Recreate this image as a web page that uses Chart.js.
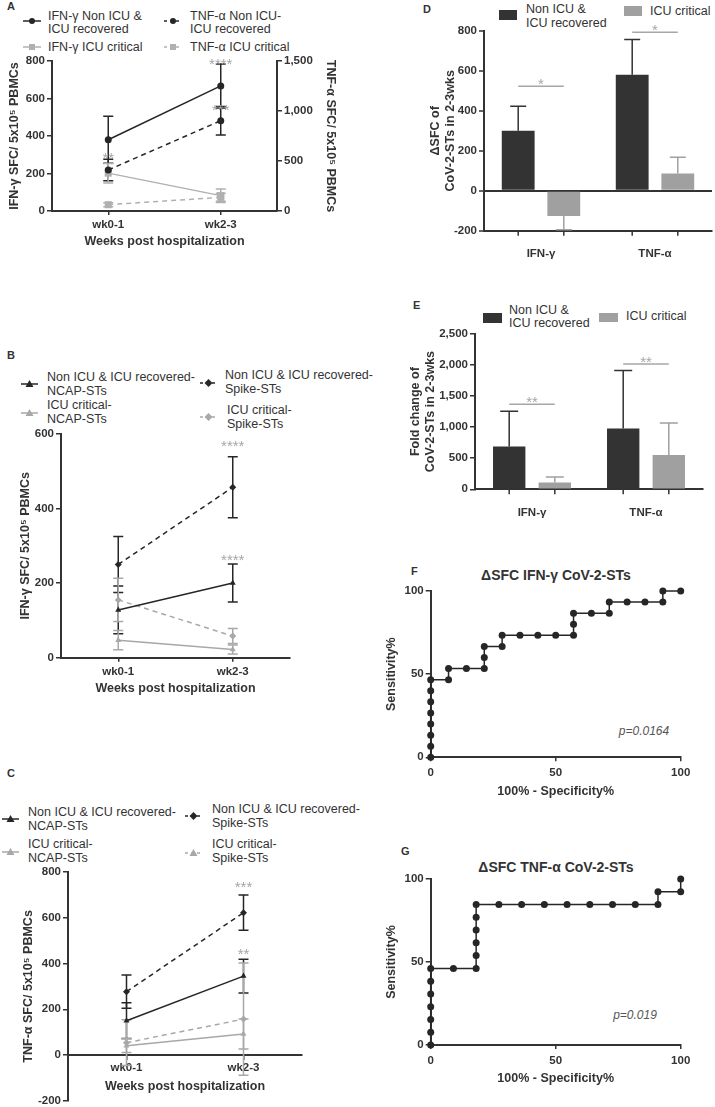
<!DOCTYPE html>
<html>
<head>
<meta charset="utf-8">
<script src="https://cdn.jsdelivr.net/npm/chart.js@4.4.0/dist/chart.umd.min.js"></script>
<style>
  body { margin: 0; width: 715px; height: 1107px; position: relative; overflow: hidden; background: #fff;
         font-family: 'Liberation Sans', Arial, sans-serif; color: #333; }
  canvas, svg, .t, .lt, .h { position: absolute; }
  .t { font-size: 12.5px; line-height: 14px; white-space: nowrap; }
  .lt { font-size: 11px; line-height: 13px; font-weight: bold; }
  .h { font-size: 14px; line-height: 15px; font-weight: bold; text-align: center; width: 220px; }
  .p { position: absolute; font-size: 12px; line-height: 14px; font-style: italic; color: #555; text-align: center; width: 100px; }
  .box { position: absolute; }
</style>
</head>
<body>

<!-- panel letters -->
<div class="lt" style="left:7px;top:0px">A</div>
<div class="lt" style="left:7px;top:349px">B</div>
<div class="lt" style="left:7px;top:767px">C</div>
<div class="lt" style="left:423px;top:3px">D</div>
<div class="lt" style="left:413px;top:299px">E</div>
<div class="lt" style="left:411px;top:565px">F</div>
<div class="lt" style="left:401px;top:845px">G</div>

<!-- legend A -->
<svg style="left:23px;top:16px" width="18" height="10"><line x1="0" y1="5" x2="18" y2="5" stroke="#262626" stroke-width="1.5"/><circle cx="9" cy="5" r="3" fill="#262626"/></svg>
<div class="t" style="left:48px;top:10.3px;line-height:13px">IFN-γ Non ICU &amp;<br>ICU recovered</div>
<svg style="left:164px;top:16px" width="18" height="10"><line x1="0" y1="5" x2="18" y2="5" stroke="#262626" stroke-width="1.5" stroke-dasharray="3,3"/><circle cx="9" cy="5" r="3" fill="#262626"/></svg>
<div class="t" style="left:190px;top:10.3px;line-height:13px">TNF-α Non ICU-<br>ICU recovered</div>
<svg style="left:23px;top:42px" width="18" height="10"><line x1="0" y1="5" x2="18" y2="5" stroke="#b0b0b0" stroke-width="1.5"/><rect x="6" y="2" width="6" height="6" fill="#b0b0b0"/></svg>
<div class="t" style="left:48px;top:40.3px">IFN-γ ICU critical</div>
<svg style="left:164px;top:42px" width="18" height="10"><line x1="0" y1="5" x2="18" y2="5" stroke="#b0b0b0" stroke-width="1.5" stroke-dasharray="3,3"/><rect x="6" y="2" width="6" height="6" fill="#b0b0b0"/></svg>
<div class="t" style="left:190px;top:40.3px">TNF-α ICU critical</div>

<!-- legend B -->
<svg style="left:21px;top:379px" width="17" height="10"><line x1="0" y1="5" x2="17" y2="5" stroke="#262626" stroke-width="1.5"/><polygon points="8.5,1 12.5,8 4.5,8" fill="#262626"/></svg>
<div class="t" style="left:47px;top:370.3px">Non ICU &amp; ICU recovered-<br>NCAP-STs</div>
<svg style="left:21px;top:408px" width="17" height="10"><line x1="0" y1="5" x2="17" y2="5" stroke="#a8a8a8" stroke-width="1.5"/><polygon points="8.5,1 12.5,8 4.5,8" fill="#a8a8a8"/></svg>
<div class="t" style="left:47px;top:398.3px">ICU critical-<br>NCAP-STs</div>
<svg style="left:200px;top:378px" width="17" height="10"><line x1="0" y1="5" x2="17" y2="5" stroke="#262626" stroke-width="1.5" stroke-dasharray="3,3"/><polygon points="8.5,1 12.5,5 8.5,9 4.5,5" fill="#262626"/></svg>
<div class="t" style="left:225px;top:368.3px">Non ICU &amp; ICU recovered-<br>Spike-STs</div>
<svg style="left:200px;top:412px" width="17" height="10"><line x1="0" y1="5" x2="17" y2="5" stroke="#a8a8a8" stroke-width="1.5" stroke-dasharray="3,3"/><polygon points="8.5,1 12.5,5 8.5,9 4.5,5" fill="#a8a8a8"/></svg>
<div class="t" style="left:227px;top:403.3px">ICU critical-<br>Spike-STs</div>

<!-- legend C -->
<svg style="left:2px;top:814px" width="17" height="10"><line x1="0" y1="5" x2="17" y2="5" stroke="#262626" stroke-width="1.5"/><polygon points="8.5,1 12.5,8 4.5,8" fill="#262626"/></svg>
<div class="t" style="left:28px;top:804.8px">Non ICU &amp; ICU recovered-<br>NCAP-STs</div>
<svg style="left:2px;top:847px" width="17" height="10"><line x1="0" y1="5" x2="17" y2="5" stroke="#a8a8a8" stroke-width="1.5"/><polygon points="8.5,1 12.5,8 4.5,8" fill="#a8a8a8"/></svg>
<div class="t" style="left:28px;top:837.3px">ICU critical-<br>NCAP-STs</div>
<svg style="left:185px;top:811px" width="17" height="10"><line x1="0" y1="5" x2="17" y2="5" stroke="#262626" stroke-width="1.5" stroke-dasharray="3,3"/><polygon points="8.5,1 12.5,5 8.5,9 4.5,5" fill="#262626"/></svg>
<div class="t" style="left:212px;top:802.3px">Non ICU &amp; ICU recovered-<br>Spike-STs</div>
<svg style="left:185px;top:848px" width="17" height="10"><line x1="0" y1="5" x2="17" y2="5" stroke="#a8a8a8" stroke-width="1.5" stroke-dasharray="3,3"/><polygon points="8.5,1 12.5,8 4.5,8" fill="#a8a8a8"/></svg>
<div class="t" style="left:212px;top:837.3px">ICU critical-<br>Spike-STs</div>

<!-- legend D -->
<div class="box" style="left:499px;top:10px;width:18px;height:10px;background:#333"></div>
<div class="t" style="left:526px;top:1.8px;line-height:14.4px">Non ICU &amp;<br>ICU recovered</div>
<div class="box" style="left:624px;top:6px;width:18px;height:10px;background:#a0a0a0"></div>
<div class="t" style="left:650px;top:4.3px">ICU critical</div>

<!-- legend E -->
<div class="box" style="left:483px;top:313px;width:19px;height:10px;background:#333"></div>
<div class="t" style="left:509px;top:304.1px;line-height:13.3px">Non ICU &amp;<br>ICU recovered</div>
<div class="box" style="left:599px;top:313px;width:19px;height:9px;background:#a0a0a0"></div>
<div class="t" style="left:626px;top:309.3px">ICU critical</div>

<!-- ROC titles and p values -->
<div class="h" style="left:446px;top:567.5px">ΔSFC IFN-γ CoV-2-STs</div>
<div class="h" style="left:446px;top:859.5px">ΔSFC TNF-α CoV-2-STs</div>
<div class="p" style="left:594px;top:723.5px">p=0.0164</div>
<div class="p" style="left:585px;top:1007.5px">p=0.019</div>

<script>
// ---- data ----
const weeks = ['wk0-1', 'wk2-3'];

// A: IFN-γ (left axis) and TNF-α (right axis) SFC
const ifnRecA = [380, 667];
const ifnRecAErr = [125, 117];
const tnfRecA = [410, 903];
const tnfRecAErr = [107, 143];
const ifnCritA = [202, 82];
const ifnCritAErr = [52, 36];
const tnfCritA = [63, 137];
const tnfCritAErr = [20, 40];

// B: IFN-γ SFC by peptide pool
const recNcapB = [128, 200];
const recNcapBErr = [64, 51];
const recSpikeB = [250, 457];
const recSpikeBErr = [75, 82];
const critNcapB = [47, 22];
const critNcapBErr = [26, 12];
const critSpikeB = [155, 58];
const critSpikeBErr = [58, 20];

// C: TNF-α SFC by peptide pool
const recNcapC = [150, 345];
const recNcapCErr = [78, 74];
const recSpikeC = [277, 622];
const recSpikeCErr = [73, 77];
const critNcapC = [41, 92];
const critNcapCErr = [30, 66];
const critSpikeC = [54, 157];
const critSpikeCErr = [100, 245];

// D / E bars
const cytokines = ['IFN-γ', 'TNF-α'];
const deltaRec = [300, 580];
const deltaRecErr = [123, 177];
const deltaCrit = [-127, 86];
const deltaCritErr = [68, 82];
const foldRec = [688, 978];
const foldRecErr = [569, 932];
const foldCrit = [111, 553];
const foldCritErr = [85, 513];

// F / G ROC curves (100% - specificity, sensitivity)
const rocFx = [0, 0, 0, 0, 0, 0, 0, 0, 7.14, 7.14, 14.29, 21.43, 21.43, 21.43, 28.57, 28.57, 35.71, 42.86, 50, 57.14, 57.14, 57.14, 64.29, 71.43, 71.43, 78.57, 85.71, 92.86, 92.86, 100];
const rocFy = [0, 6.67, 13.33, 20, 26.67, 33.33, 40, 46.67, 46.67, 53.33, 53.33, 53.33, 60, 66.67, 66.67, 73.33, 73.33, 73.33, 73.33, 73.33, 80, 86.67, 86.67, 86.67, 93.33, 93.33, 93.33, 93.33, 100, 100];
const rocGx = [0, 0, 0, 0, 0, 0, 0, 9.09, 18.18, 18.18, 18.18, 18.18, 18.18, 18.18, 27.27, 36.36, 45.45, 54.55, 63.64, 72.73, 81.82, 90.91, 90.91, 100, 100];
const rocGy = [0, 7.69, 15.38, 23.08, 30.77, 38.46, 46.15, 46.15, 46.15, 53.85, 61.54, 69.23, 76.92, 84.62, 84.62, 84.62, 84.62, 84.62, 84.62, 84.62, 84.62, 84.62, 92.31, 92.31, 100];

// ---- styling ----
const INK = '#333333';
const BLACK = '#262626';
const GRAY = '#b0b0b0';
const GRAY2 = '#a8a8a8';
const STAR = '#a6a6a6';
const FONT = "'Liberation Sans', Arial, sans-serif";
Chart.defaults.font.family = FONT;
Chart.defaults.color = INK;

// error bars: symmetric for lines, away from zero for bars
const errorBars = {
  id: 'errorBars',
  beforeDatasetsDraw(chart) {
    const ctx = chart.ctx;
    const isBar = chart.config.type === 'bar';
    chart.data.datasets.forEach((ds, i) => {
      if (!ds.err) return;
      const meta = chart.getDatasetMeta(i);
      const ys = chart.scales[meta.yAxisID];
      ctx.save();
      ctx.strokeStyle = ds.errColor || ds.borderColor;
      ctx.lineWidth = 1.5;
      meta.data.forEach((el, j) => {
        const v = ds.data[j], e = ds.err[j];
        let lo = v - e, hi = v + e;
        if (isBar) { if (v >= 0) lo = v; else hi = v; }
        const y1 = ys.getPixelForValue(lo), y2 = ys.getPixelForValue(hi);
        const w = (ds.cap || 10) / 2, x = el.x;
        ctx.beginPath();
        ctx.moveTo(x, y1); ctx.lineTo(x, y2);
        if (!isBar || v >= 0) { ctx.moveTo(x - w, y2); ctx.lineTo(x + w, y2); }
        if (!isBar || v < 0) { ctx.moveTo(x - w, y1); ctx.lineTo(x + w, y1); }
        ctx.stroke();
      });
      ctx.restore();
    });
  }
};

// significance stars and brackets
const annotate = {
  id: 'annotate',
  afterDatasetsDraw(chart, args, opts) {
    const ctx = chart.ctx, xs = chart.scales.x;
    ctx.save();
    ctx.fillStyle = STAR; ctx.strokeStyle = STAR;
    ctx.font = '15px ' + FONT; ctx.textAlign = 'center'; ctx.textBaseline = 'alphabetic';
    (opts.stars || []).forEach(s => {
      const ys = chart.scales[s.axis || 'y'];
      ctx.fillText(s.text, xs.getPixelForValue(s.at), ys.getPixelForValue(s.value) + 8.5);
    });
    (opts.brackets || []).forEach(b => {
      const a = chart.getDatasetMeta(0).data[b.at].x;
      const c = chart.getDatasetMeta(1).data[b.at].x;
      const y = chart.scales.y.getPixelForValue(b.value);
      ctx.lineWidth = 1.5;
      ctx.beginPath(); ctx.moveTo(a, y); ctx.lineTo(c, y); ctx.stroke();
      ctx.fillText(b.text, (a + c) / 2, y + 3);
    });
    ctx.restore();
  }
};

// small tick marks under each bar
const barTicks = {
  id: 'barTicks',
  afterDraw(chart) {
    if (chart.config.type !== 'bar') return;
    const ctx = chart.ctx, y = chart.chartArea.bottom;
    ctx.save();
    ctx.strokeStyle = INK; ctx.lineWidth = 1.5;
    chart.data.datasets.forEach((ds, i) => {
      chart.getDatasetMeta(i).data.forEach(el => {
        ctx.beginPath(); ctx.moveTo(el.x, y); ctx.lineTo(el.x, y + 5); ctx.stroke();
      });
    });
    ctx.restore();
  }
};
Chart.register(errorBars, annotate, barTicks);

function place(L, T, W, H) {
  const c = document.createElement('canvas');
  c.width = W; c.height = H;
  c.style.left = L + 'px'; c.style.top = T + 'px';
  document.body.appendChild(c);
  return c;
}

function yAxis(o) {
  return {
    type: 'linear', position: o.position || 'left', min: o.min, max: o.max,
    afterFit: s => { s.width = o.width; },
    border: { display: true, color: INK, width: 2 },
    grid: {
      drawOnChartArea: !!o.zeroLine,
      color: o.zeroLine ? (c => c.tick.value === 0 ? INK : 'rgba(0,0,0,0)') : INK,
      lineWidth: o.zeroLine ? (c => c.tick.value === 0 ? 2 : 0) : 1.5,
      tickColor: INK, tickWidth: 1.5, tickLength: 5
    },
    ticks: { stepSize: o.step, padding: 2, font: { size: 11.5, weight: 'bold' }, color: INK },
    title: { display: !!o.title, text: o.title, color: INK, font: { size: 12.5, weight: 'bold' },
             padding: { top: o.tpad || 0, bottom: 0 } }
  };
}

function xAxis(o) {
  return {
    type: o.type || 'category', position: o.position || 'bottom', offset: o.type !== 'linear',
    min: o.min, max: o.max,
    afterFit: s => { s.height = o.height; },
    border: { display: true, color: INK, width: 2 },
    grid: { display: true, offset: false, drawOnChartArea: false, drawTicks: o.drawTicks !== false,
            tickLength: 4, color: INK, lineWidth: 1.5 },
    ticks: { padding: o.pad, stepSize: o.step, font: { size: 11.5, weight: 'bold' }, color: INK,
             maxRotation: 0, autoSkip: false },
    title: { display: !!o.title, text: o.title, color: INK, font: { size: 12.5, weight: 'bold' },
             padding: { top: 0, bottom: o.tpad || 0 } }
  };
}

function base(padding, scales, plugins) {
  return {
    responsive: false, animation: false,
    layout: { padding },
    scales,
    plugins: Object.assign({ legend: { display: false }, tooltip: { enabled: false } }, plugins || {})
  };
}

function lineSet(data, err, color, style, dashed, axis) {
  return {
    data, err, yAxisID: axis || 'y',
    borderColor: color, backgroundColor: color, borderWidth: 1.5,
    borderDash: dashed ? [5, 4] : [],
    pointStyle: style, pointRadius: style === 'rect' ? 5 : 3.5, pointBorderWidth: 0,
    tension: 0, clip: false
  };
}

// ---- A ----
new Chart(place(0, 50, 340, 200), {
  type: 'line',
  data: {
    labels: weeks,
    datasets: [
      lineSet(ifnRecA, ifnRecAErr, BLACK, 'circle', false, 'y'),
      lineSet(tnfRecA, tnfRecAErr, BLACK, 'circle', true, 'y2'),
      lineSet(ifnCritA, ifnCritAErr, GRAY, 'rect', false, 'y'),
      lineSet(tnfCritA, tnfCritAErr, GRAY, 'rect', true, 'y2')
    ]
  },
  options: base({ top: 11, left: 0, right: 0, bottom: 0 }, {
    x: xAxis({ height: 39, pad: 3, title: 'Weeks post hospitalization', tpad: 1 }),
    y: yAxis({ min: 0, max: 800, step: 200, width: 52, title: 'IFN-γ SFC/ 5x10⁵ PBMCs', tpad: 7.5 }),
    y2: yAxis({ position: 'right', min: 0, max: 1500, step: 500, width: 63, title: 'TNF-α SFC/ 5x10⁵ PBMCs', tpad: 2.5 })
  }, {
    annotate: { stars: [
      { at: 0, value: 299, text: '**' },
      { at: 1, value: 805, text: '****' },
      { at: 1, value: 555, text: '***' }
    ] }
  })
});

// ---- B ----
new Chart(place(0, 425, 340, 272), {
  type: 'line',
  data: {
    labels: weeks,
    datasets: [
      lineSet(recNcapB, recNcapBErr, BLACK, 'triangle', false),
      lineSet(recSpikeB, recSpikeBErr, BLACK, 'rectRot', true),
      lineSet(critNcapB, critNcapBErr, GRAY2, 'triangle', false),
      lineSet(critSpikeB, critSpikeBErr, GRAY2, 'rectRot', true)
    ]
  },
  options: base({ top: 7.7, left: 0, right: 50, bottom: 0 }, {
    x: xAxis({ height: 39.3, pad: 3, title: 'Weeks post hospitalization', tpad: 1.1 }),
    y: yAxis({ min: 0, max: 600, step: 200, width: 61, title: 'IFN-γ SFC/ 5x10⁵ PBMCs', tpad: 18.5 })
  }, {
    annotate: { stars: [
      { at: 1, value: 576, text: '****' },
      { at: 1, value: 271, text: '****' }
    ] }
  })
});

// ---- C ----
new Chart(place(0, 862, 340, 250), {
  type: 'line',
  data: {
    labels: weeks,
    datasets: [
      lineSet(recNcapC, recNcapCErr, BLACK, 'triangle', false),
      lineSet(recSpikeC, recSpikeCErr, BLACK, 'rectRot', true),
      lineSet(critNcapC, critNcapCErr, GRAY2, 'triangle', false),
      lineSet(critSpikeC, critSpikeCErr, GRAY2, 'rectRot', true)
    ]
  },
  options: base({ top: 10, left: 0, right: 38, bottom: 11.2 }, {
    x: xAxis({ position: { y: 0 }, height: 40, pad: 2, title: 'Weeks post hospitalization', tpad: 0.9 }),
    y: yAxis({ min: -200, max: 800, step: 200, width: 68, title: 'TNF-α SFC/ 5x10⁵ PBMCs', tpad: 21.5 })
  }, {
    annotate: { stars: [
      { at: 1, value: 748, text: '***' },
      { at: 1, value: 459, text: '**' }
    ] }
  })
});

// ---- D ----
new Chart(place(420, 22, 295, 243), {
  type: 'bar',
  data: {
    labels: cytokines,
    datasets: [
      { data: deltaRec, err: deltaRecErr, backgroundColor: '#333333', borderColor: '#333333', cap: 16,
        categoryPercentage: 0.8, barPercentage: 0.72 },
      { data: deltaCrit, err: deltaCritErr, backgroundColor: '#a0a0a0', borderColor: '#a0a0a0', cap: 16,
        categoryPercentage: 0.8, barPercentage: 0.72 }
    ]
  },
  options: base({ top: 8, left: 0, right: 3, bottom: 0 }, {
    x: xAxis({ height: 34.3, pad: 16, drawTicks: false }),
    y: yAxis({ min: -200, max: 800, step: 200, width: 64, zeroLine: true,
                title: ['ΔSFC of', 'CoV-2-STs in 2-3wks'], tpad: 8.5 })
  }, {
    annotate: { brackets: [
      { at: 0, value: 523, text: '*' },
      { at: 1, value: 793, text: '*' }
    ] }
  })
});

// ---- E ----
new Chart(place(405, 325, 310, 200), {
  type: 'bar',
  data: {
    labels: cytokines,
    datasets: [
      { data: foldRec, err: foldRecErr, backgroundColor: '#333333', borderColor: '#333333', cap: 18,
        categoryPercentage: 0.8, barPercentage: 0.71 },
      { data: foldCrit, err: foldCritErr, backgroundColor: '#a0a0a0', borderColor: '#a0a0a0', cap: 18,
        categoryPercentage: 0.8, barPercentage: 0.71 }
    ]
  },
  options: base({ top: 7.3, left: 0, right: 12, bottom: 0 }, {
    x: xAxis({ height: 35.7, pad: 16.5, drawTicks: false }),
    y: yAxis({ min: 0, max: 2500, step: 500, width: 70,
                title: ['Fold change of', 'CoV-2-STs in 2-3wks'], tpad: 3.2 })
  }, {
    annotate: { brackets: [
      { at: 0, value: 1369, text: '**' },
      { at: 1, value: 2016, text: '**' }
    ] }
  })
});

// ---- F / G ROC ----
function roc(canvas, xs, ys, top, xh, xtpad) {
  return new Chart(canvas, {
    type: 'line',
    data: {
      datasets: [{
        data: xs.map((x, i) => ({ x, y: ys[i] })),
        borderColor: BLACK, backgroundColor: BLACK, borderWidth: 1.5,
        pointStyle: 'circle', pointRadius: 3.5, pointBorderWidth: 0, tension: 0, clip: false
      }]
    },
    options: base({ top, left: 0, right: 24.3, bottom: 0 }, {
      x: xAxis({ type: 'linear', min: 0, max: 100, step: 50, height: xh, pad: 5,
                 title: '100% - Specificity%', tpad: xtpad }),
      y: yAxis({ min: 0, max: 100, step: 50, width: 55.7, title: 'Sensitivity%', tpad: 9.5 })
    })
  });
}
roc(place(375, 580, 330, 225), rocFx, rocFy, 11, 47.7, 5.8);
roc(place(375, 865, 330, 230), rocGx, rocGy, 14, 50, 9.2);
</script>
</body>
</html>
